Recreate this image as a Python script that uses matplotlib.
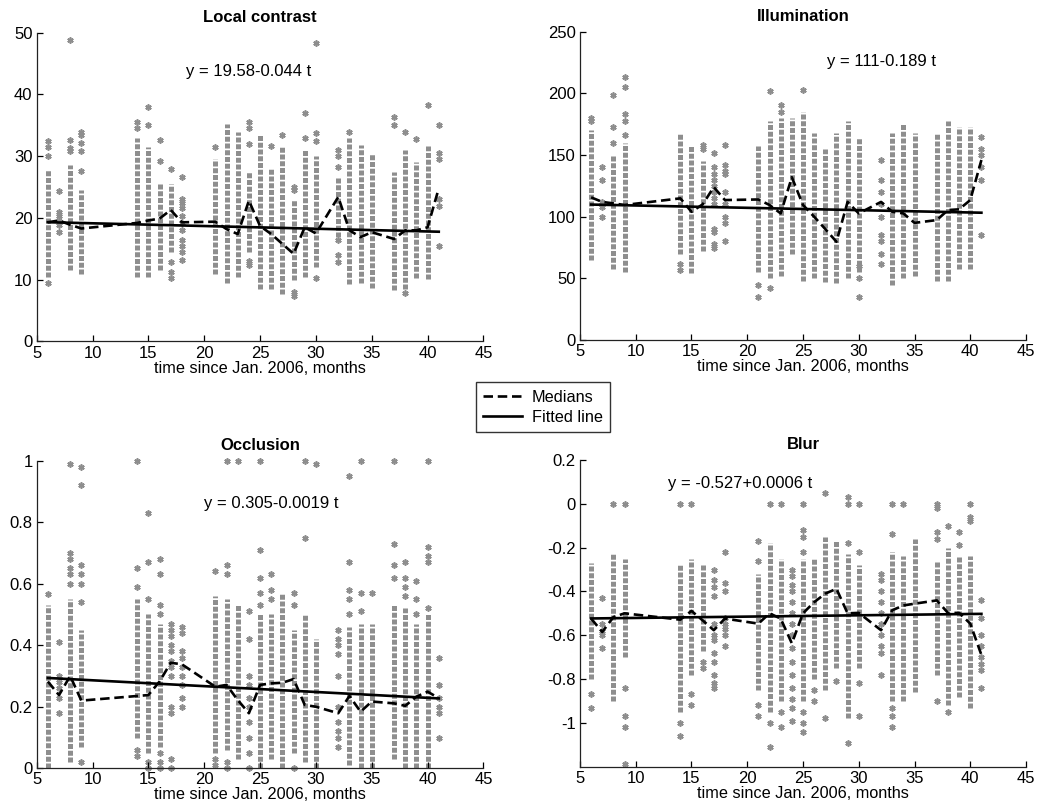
import numpy as np
import matplotlib
matplotlib.use("Agg")
import matplotlib.pyplot as plt
from matplotlib.ticker import FormatStrFormatter

plt.rcParams['font.family'] = ['Liberation Sans', 'DejaVu Sans']

nan = np.nan

# months with data (time since Jan. 2006)
months = [6, 7, 8, 9, 14, 15, 16, 17, 18, 21, 22, 23, 24, 25, 26, 27, 28, 29, 30,
          32, 33, 34, 35, 37, 38, 39, 40, 41]

# ---- Local contrast ----
lc_lo = [10.5, nan, 11.5, 11, 10.5, 10.5, 11.5, 14.5, nan, 11, 9.5, 10.5, 14.5, 8.5,
         8.5, 7.7, 10, 10.5, 12, 17, 9.3, 9.5, 8.7, 8.3, 8.5, 10.3, 10.2, nan]
lc_hi = [28, nan, 28.5, 24.5, 33, 31.5, 25.5, 25.5, nan, 29.5, 35.2, 34, 27.5, 33.5,
         28, 31.5, 23, 31, 30, 26.5, 33, 31.8, 30.3, 27.5, 31, 29, 31.6, nan]
lc_pts = [[9.4, 30, 31.5, 32.5], [17.8, 18.8, 19.5, 20.3, 21.0, 24.4],
          [30.8, 31.3, 32.7, 48.9], [27.6, 30.8, 32.2, 33.5, 34.0], [34.5, 35.6],
          [35.0, 38.0], [29.3, 32.7], [10.3, 11.2, 12.8, 28.0],
          [13.2, 14.5, 15.5, 16.5, 18.0, 19.2, 20.3, 21.6, 22.5, 23.0, 26.6],
          [31.5], [], [], [12.4, 13.0, 32.0, 34.5, 35.6], [], [31.7], [33.5],
          [7.3, 8.0, 24.5, 25.0], [33.0, 37.0], [10.3, 32.5, 33.8, 48.3],
          [12.8, 14.0, 16.5, 28.2, 30.1, 31.0], [34.0], [], [], [35.0, 36.3],
          [7.8, 34.0], [32.8], [38.3], [15.5, 22.0, 23.0, 29.5, 30.5, 35.0]]
lc_med = [19.3, 19.6, 18.9, 18.3, 19.2, 19.6, 19.9, 21.3, 19.3, 19.4, 18.2, 17.4,
          22.8, 18.7, 17.4, 15.8, 14.2, 18.5, 17.5, 23.4, 18.0, 16.9, 17.7, 16.6,
          18.0, 18.0, 18.5, 24.8]
lc_fit = (19.58, -0.044)

# ---- Illumination ----
il_lo = [65, nan, 58, 55, 70, 54, 72, nan, nan, 55, 50, 52, 70, 48, 50, 47, 46, 50,
         55, nan, 45, 50, 52, 48, 48, 58, 58, nan]
il_hi = [170, nan, 150, 160, 168, 158, 145, nan, nan, 157, 178, 180, 180, 185, 168,
         155, 168, 178, 165, nan, 168, 176, 168, 168, 178, 173, 173, nan]
il_pts = [[178, 180], [100, 108, 112, 130, 140], [160, 173, 199],
          [166, 178, 183, 205, 213], [57, 62], [], [155, 158],
          [75, 78, 88, 90, 110, 115, 120, 125, 130, 135, 140, 152],
          [80, 95, 100, 110, 120, 135, 137, 142, 158], [35, 45], [42, 202],
          [185, 191], [], [203], [], [], [], [], [35, 50, 60],
          [62, 70, 80, 85, 100, 110, 120, 130, 146], [], [], [], [], [], [], [],
          [85, 130, 140, 150, 155, 165]]
il_med = [115.7, 112, 110.8, 109.5, 114.9, 104, 110, 124, 113.5, 114, 109.5, 102.7,
          132, 109.5, 100, 90, 79.7, 112, 102.7, 112, 104, 102.7, 95, 97.3, 105.4,
          106, 113.5, 146]
il_fit = (111, -0.189)

# ---- Occlusion ----
oc_lo = [0.0, nan, 0.02, 0.07, 0.1, 0.05, 0.07, nan, nan, 0.05, 0.06, 0.03, nan, 0.0,
         0.03, 0.0, 0.05, 0.02, 0.0, nan, 0.01, 0.0, 0.0, 0.03, 0.0, 0.0, 0.0, nan]
oc_hi = [0.53, nan, 0.55, 0.45, 0.55, 0.5, 0.47, nan, nan, 0.56, 0.55, 0.53, nan, 0.5,
         0.5, 0.57, 0.45, 0.5, 0.42, nan, 0.46, 0.47, 0.47, 0.53, 0.52, 0.47, 0.5, nan]
oc_pts = [[0.565], [0.18, 0.23, 0.26, 0.28, 0.30, 0.41],
          [0.60, 0.63, 0.65, 0.68, 0.70, 0.99],
          [0.02, 0.54, 0.60, 0.63, 0.66, 0.92, 0.98],
          [0.04, 0.06, 0.59, 0.65, 1.0], [0.0, 0.02, 0.55, 0.67, 0.83],
          [0.0, 0.02, 0.05, 0.50, 0.53, 0.63, 0.68],
          [0.0, 0.03, 0.18, 0.20, 0.30, 0.33, 0.35, 0.38, 0.40, 0.43, 0.45, 0.47],
          [0.20, 0.23, 0.27, 0.30, 0.33, 0.36, 0.38, 0.44, 0.46],
          [0.01, 0.03, 0.64], [0.0, 0.02, 0.63, 0.66, 1.0], [1.0],
          [0.0, 0.05, 0.10, 0.15, 0.20, 0.23, 0.27, 0.30, 0.42, 0.51],
          [0.53, 0.57, 0.62, 0.71, 1.0], [0.55, 0.58, 0.63], [], [0.0, 0.53, 0.57],
          [0.75, 1.0], [0.99],
          [0.07, 0.10, 0.12, 0.15, 0.20, 0.30, 0.37, 0.40, 0.42, 0.45],
          [0.50, 0.55, 0.58, 0.67, 0.95], [0.51, 0.57, 1.0], [0.57],
          [0.62, 0.66, 0.73, 1.0], [0.56, 0.59, 0.62, 0.67], [0.50, 0.55, 0.61],
          [0.52, 0.67, 0.69, 0.72, 1.0], [0.10, 0.18, 0.20, 0.23, 0.27, 0.36]]
oc_med = [0.282, 0.238, 0.30, 0.22, 0.235, 0.238, 0.282, 0.343, 0.338, 0.265, 0.271,
          0.222, 0.179, 0.271, 0.276, 0.278, 0.29, 0.206, 0.20, 0.179, 0.235, 0.184,
          0.217, 0.211, 0.203, 0.233, 0.249, 0.228]
oc_fit = (0.305, -0.0019)

# ---- Blur ----
bl_lo = [-0.8, nan, -0.9, -0.7, -0.95, -0.78, -0.67, nan, nan, -0.85, -0.95, -0.9, nan,
         -0.9, -0.8, -0.85, -0.75, -0.98, -0.75, nan, -0.9, -0.9, -0.86, -0.78, -0.92,
         -0.88, -0.93, nan]
bl_hi = [-0.27, nan, -0.23, -0.25, -0.28, -0.25, -0.28, nan, nan, -0.32, -0.18, -0.25,
         nan, -0.25, -0.25, -0.15, -0.17, -0.23, -0.28, nan, -0.22, -0.24, -0.16, -0.26,
         -0.2, -0.24, -0.24, nan]
bl_pts = [[-0.87, -0.93], [-0.43, -0.55, -0.58, -0.60, -0.66], [0.0],
          [-0.84, -0.97, -1.02, -1.19, 0.0], [-1.0, -1.06, 0.0], [-0.87, -0.92, 0.0],
          [-0.72, -0.75],
          [-0.30, -0.35, -0.38, -0.42, -0.55, -0.60, -0.62, -0.68, -0.72, -0.78, -0.82, -0.84],
          [-0.22, -0.36, -0.40, -0.52, -0.55, -0.57, -0.60, -0.65],
          [-0.17, -0.26, -0.92, -0.97], [-1.0, -1.11, 0.0], [-0.95, -1.02, 0.0],
          [-0.30, -0.33, -0.37, -0.40, -0.45, -0.50, -0.55, -0.60, -0.66, -0.72,
           -0.78, -0.84, -0.89, -0.93, -0.99],
          [-0.12, -0.15, -0.22, -0.95, -1.0, -1.04, 0.0], [-0.85, -0.90], [-0.98, 0.05],
          [-0.81], [-0.18, -1.09, 0.0, 0.03], [-0.22, -0.82, -0.97, 0.0],
          [-0.32, -0.35, -0.40, -0.45, -0.50, -0.55, -0.60, -0.65, -0.68, -0.78],
          [-0.14, -0.93, -0.97, -1.02, 0.0], [0.0], [], [-0.02, -0.13, -0.16, -0.90, 0.0],
          [-0.10, -0.95], [-0.13, -0.19], [-0.06, -0.08, 0.0],
          [-0.44, -0.52, -0.60, -0.65, -0.70, -0.73, -0.76, -0.84]]
bl_med = [-0.524, -0.585, -0.517, -0.50, -0.529, -0.489, -0.532, -0.577, -0.524, -0.547,
          -0.50, -0.524, -0.637, -0.50, -0.449, -0.41, -0.388, -0.50, -0.498, -0.577,
          -0.486, -0.464, -0.456, -0.441, -0.498, -0.498, -0.547, -0.69]
bl_fit = (-0.527, 0.0006)

gray = '#8e8e8e'


def panel(ax, title, lo, hi, pts, med, fit, ylim, yticks, eq, eq_xy, fmt):
    m = np.array(months, dtype=float)
    lo = np.array(lo)
    hi = np.array(hi)
    ok = ~np.isnan(lo)
    # dense columns of observations (stacked markers)
    ax.vlines(m[ok], lo[ok], hi[ok], color=gray, lw=3.6,
              linestyles=[(0, (1.0, 0.35))], zorder=1)
    # single observations
    px = [mm for mm, vals in zip(months, pts) for v in vals]
    py = [v for vals in pts for v in vals]
    ax.plot(px, py, ls='none', marker=(6, 2, 0), ms=4.5, mew=1.2, color=gray,
            zorder=1, clip_on=False)
    med_line, = ax.plot(months, med, color='black', lw=1.9, dashes=(3.6, 1.8), zorder=3)
    t = np.array([months[0], months[-1]])
    fit_line, = ax.plot(t, fit[0] + fit[1] * t, color='black', lw=1.9, zorder=3)
    ax.text(eq_xy[0], eq_xy[1], eq, ha='center', va='center', fontsize=12)

    ax.set_xlim(5, 45)
    ax.set_ylim(*ylim)
    ax.set_xticks(range(5, 46, 5))
    ax.set_yticks(yticks)
    ax.yaxis.set_major_formatter(FormatStrFormatter(fmt))
    ax.set_title(title, fontweight='bold', fontsize=12, pad=8)
    ax.set_xlabel('time since Jan. 2006, months', fontsize=11.7, labelpad=0)
    ax.spines['top'].set_visible(False)
    ax.spines['right'].set_visible(False)
    for s in ('left', 'bottom'):
        ax.spines[s].set_linewidth(0.9)
        ax.spines[s].set_color('#222222')
    ax.tick_params(direction='in', length=4, width=0.9, labelsize=12, pad=3)
    return med_line, fit_line


fig = plt.figure(figsize=(10.39, 8.10), dpi=100)
ax1 = fig.add_axes([0.0353, 0.5784, 0.4300, 0.3812])
ax2 = fig.add_axes([0.5582, 0.5802, 0.4293, 0.3806])
ax3 = fig.add_axes([0.0353, 0.0515, 0.4300, 0.3798])
ax4 = fig.add_axes([0.5582, 0.0535, 0.4293, 0.3786])

h = panel(ax1, 'Local contrast', lc_lo, lc_hi, lc_pts, lc_med, lc_fit, (0, 50),
          range(0, 51, 10), 'y = 19.58-0.044 t', (24, 43.7), '%g')
panel(ax2, 'Illumination', il_lo, il_hi, il_pts, il_med, il_fit, (0, 250),
      range(0, 251, 50), 'y = 111-0.189 t', (32, 225.7), '%g')
panel(ax3, 'Occlusion', oc_lo, oc_hi, oc_pts, oc_med, oc_fit, (0, 1),
      [0, 0.2, 0.4, 0.6, 0.8, 1], 'y = 0.305-0.0019 t', (26, 0.861), '%g')
panel(ax4, 'Blur', bl_lo, bl_hi, bl_pts, bl_med, bl_fit, (-1.2, 0.2),
      [-1, -0.8, -0.6, -0.4, -0.2, 0, 0.2], 'y = -0.527+0.0006 t', (19.4, 0.092), '%g')

leg = fig.legend(h, ['Medians', 'Fitted line'], loc='upper left',
                 bbox_to_anchor=(0.458, 0.528), borderaxespad=0, fontsize=11.7,
                 fancybox=False, edgecolor='#333333', framealpha=1, handlelength=2.4,
                 borderpad=0.45, labelspacing=0.3, handletextpad=0.6)
leg.get_frame().set_linewidth(1.0)

fig.savefig('out.png', dpi=100)
